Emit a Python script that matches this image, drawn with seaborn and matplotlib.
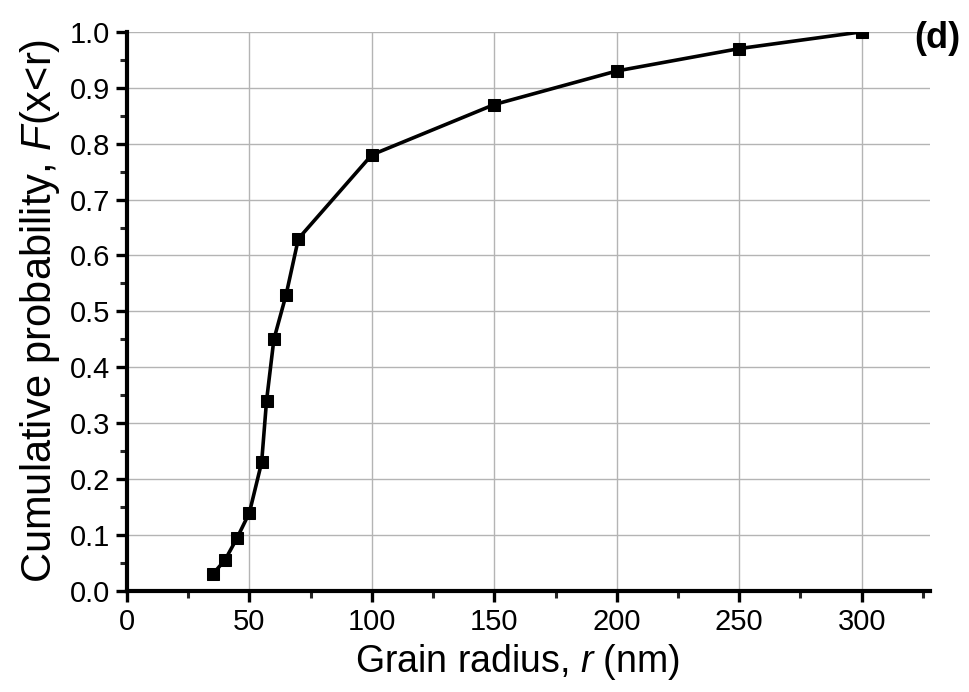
import matplotlib
matplotlib.use("Agg")
import matplotlib.pyplot as plt
import seaborn as sns
import pandas as pd
from matplotlib.ticker import MultipleLocator, FormatStrFormatter

# Data
radius_nm = [35, 40, 45, 50, 55, 57, 60, 65, 70, 100, 150, 200, 250, 300]
cum_prob = [0.03, 0.055, 0.095, 0.14, 0.23, 0.34, 0.45, 0.53, 0.63, 0.78, 0.87, 0.93, 0.97, 1.0]
x_ticks = [0, 50, 100, 150, 200, 250, 300]
y_ticks = [0.0, 0.1, 0.2, 0.3, 0.4, 0.5, 0.6, 0.7, 0.8, 0.9, 1.0]

df = pd.DataFrame({"r": radius_nm, "F": cum_prob})

sns.set_style("ticks")
plt.rcParams["font.family"] = ["Liberation Sans", "DejaVu Sans"]
plt.rcParams["mathtext.fontset"] = "custom"
plt.rcParams["mathtext.it"] = "Liberation Sans:italic"
plt.rcParams["mathtext.rm"] = "Liberation Sans"
plt.rcParams["text.color"] = "black"
plt.rcParams["axes.labelcolor"] = "black"

fig = plt.figure(figsize=(9.69, 6.92), dpi=100)
ax = fig.add_axes([0.131, 0.146, 0.829, 0.808])

sns.lineplot(data=df, x="r", y="F", ax=ax, color="black", linewidth=2.6,
             marker="s", markersize=9, markeredgecolor="black",
             markerfacecolor="black", zorder=3)
for ln in ax.lines:
    ln.set_clip_on(True)
    ln.set_clip_box(ax.bbox)

ax.set_xlim(0, 328)
ax.set_ylim(0, 1.0)
ax.set_xticks(x_ticks)
ax.set_yticks(y_ticks)
ax.yaxis.set_major_formatter(FormatStrFormatter("%.1f"))
ax.xaxis.set_minor_locator(MultipleLocator(25))
ax.yaxis.set_minor_locator(MultipleLocator(0.05))

ax.grid(True, which="major", color="#b4b4b4", linewidth=1.0, zorder=0)
ax.set_axisbelow(True)

for s in ["top", "right"]:
    ax.spines[s].set_visible(False)
for s in ["left", "bottom"]:
    ax.spines[s].set_linewidth(3.0)
    ax.spines[s].set_color("black")

ax.tick_params(axis="both", which="major", direction="out", length=8, width=2.4,
               labelsize=21, colors="black", pad=4)
ax.tick_params(axis="both", which="minor", direction="out", length=5, width=2.2)

ax.set_xlabel("Grain radius, $r$ (nm)", fontsize=27)
ax.xaxis.set_label_coords(0.486, -0.092)
ax.set_ylabel("Cumulative probability, $F$(x<r)", fontsize=30, labelpad=6)

fig.text(0.944, 0.945, "(d)", fontsize=26, fontweight="bold", ha="left", va="center")

fig.savefig("out.png", dpi=100, facecolor="white")
